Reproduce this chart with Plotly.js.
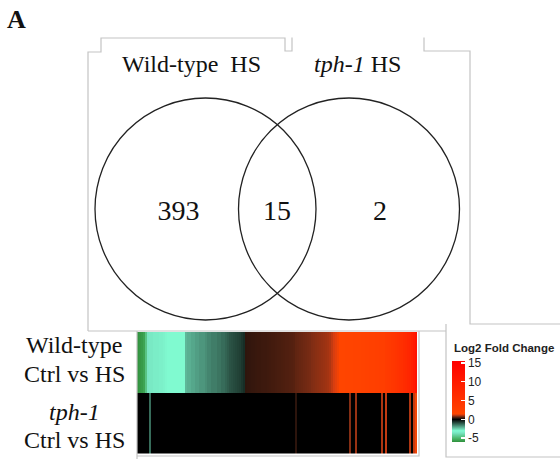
<!DOCTYPE html>
<html>
<head>
<meta charset="utf-8">
<script src="https://cdn.plot.ly/plotly-3.0.1.min.js"></script>
<style>html,body{margin:0;padding:0;background:#fff;}#chart{width:560px;height:462px;}</style>
</head>
<body>
<div id="chart"></div>
<script>
// ---------- DATA ----------
const vennSets = ['Wild-type', '<i>tph-1</i>'];
const vennCounts = [393, 15, 2];          // WT only, shared, tph-1 only
const heatRows = ['tph-1 Ctrl vs HS', 'Wild-type Ctrl vs HS'];
// log2 fold change per gene (sorted by wild-type response), wild-type row
const wtLfc = [
  -5.9, -5.8, -5.7, -5.5, -4.6,
  -3.6, -3.5, -3.5, -3.4, -3.4, -3.4, -3.3, -3.3, -3.2,
  -3.1, -3.0, -3.0, -3.0, -3.0, -3.0, -3.0, -3.0, -3.0, -3.0,
  -2.2, -2.1, -2.1, -2.0, -2.0, -1.9, -1.9, -1.8, -1.8, -1.8, -1.7,
  -1.6, -1.6, -1.5, -1.5, -1.5, -1.4, -1.4, -1.3, -1.3, -1.2,
  -1.1, -1.0, -0.95, -0.9, -0.85, -0.8, -0.75, -0.65, -0.55,
  0.32, 0.33, 0.34, 0.35, 0.36, 0.37, 0.38, 0.38, 0.39, 0.40, 0.40, 0.41, 0.42, 0.43, 0.44,
  0.45, 0.46, 0.47, 0.48, 0.49, 0.50, 0.51, 0.52, 0.53, 0.55,
  0.60, 0.62, 0.64, 0.66, 0.68, 0.70, 0.72, 0.74,
  0.78, 0.80, 0.82, 0.84, 0.86, 0.88, 0.90, 0.92, 0.95,
  1.0, 1.1, 1.2, 1.3, 1.4,
  1.5, 1.6, 1.6, 1.7, 1.7, 1.8, 1.8, 1.9, 1.9, 2.0, 2.0, 2.1, 2.2, 2.3, 2.4, 2.5, 2.5, 2.6, 2.7, 2.8, 2.9, 2.9, 3.0,
  3.5, 3.8, 4.0, 4.3, 4.6, 5.0, 5.3, 5.7, 6.0, 6.5, 7.0, 7.5, 8.0,
  9.0, 10.0, 11.5
];
// same genes, tph-1 row
const tphLfc = [
  0, 0, 0, 0, 0, 0, -1.3, 0, 0, 0, 0, 0, 0, 0, 0, 0, 0, 0, 0, 0,
  0, 0, 0, 0, 0, 0, 0, 0, 0, 0, 0, 0, 0, 0, 0, 0, 0, 0, 0, 0,
  0, 0, 0, 0, 0, 0, 0, 0, 0, 0, 0, 0, 0, 0, 0, 0, 0, 0, 0, 0,
  0, 0, 0, 0, 0, 0, 0, 0, 0, 0, 0, 0, 0, 0, 0, 0, 0, 0, 0, 0.3,
  0, 0, 0, 0, 0, 0, 0, 0, 0, 0, 0, 0, 0, 0, 0, 0, 0, 0, 0, 0,
  0, 0, 0, 0, 0, 0, 0.8, 0, 0, 0.9, 0, 0, 0, 0, 0, 0, 0, 0, 0, 0,
  0, 0, 1.0, 0, 1.1, 0, 0, 0, 0, 0, 0, 0, 0, 0, 0, 0, 1.0, 0, 1.1, 1.4
];
const cbTickVals = [-5, 0, 5, 10, 15];
const cbTickText = ['-5', '0', '5', '10', '15'];

// ---------- CHART ----------
const W = 560, H = 462;
const zmin = -6, zmax = 15.5;
const stop = v => (v - zmin) / (zmax - zmin);
const colorscale = [
  [0, '#2f8f3c'], [stop(-5.2), '#45b060'], [stop(-3.6), '#78e6c2'], [stop(-3.0), '#80fad0'],
  [stop(0), '#000000'], [stop(0.3), '#2c140c'], [stop(0.75), '#7a2c14'], [stop(1.2), '#d83e10'],
  [stop(1.5), '#ff4500'], [1, '#ff0000']
];
const serif = 'Liberation Serif, Times New Roman, serif';
const sans = 'Liberation Sans, Arial, sans-serif';

const heat = {
  type: 'heatmap', xaxis: 'x', yaxis: 'y',
  z: [tphLfc, wtLfc],
  zmin: zmin, zmax: zmax, colorscale: colorscale, zsmooth: false,
  hoverinfo: 'skip',
  colorbar: {
    x: 452 / W, xanchor: 'left', y: 1 - 401.5 / H, yanchor: 'middle',
    len: 81, lenmode: 'pixels', thickness: 13, xpad: 0, ypad: 0,
    outlinewidth: 0, ticks: 'inside', ticklen: 4, tickcolor: '#ffffff', tickwidth: 1.5,
    tickvals: cbTickVals, ticktext: cbTickText,
    tickfont: {family: sans, size: 12, color: '#222'}
  }
};

const countsTrace = {
  type: 'scatter', mode: 'text', xaxis: 'x2', yaxis: 'y2',
  x: [178.5, 277, 380], y: [213, 213, 213],
  text: vennCounts.map(String),
  textposition: 'middle center',
  textfont: {family: serif, size: 28, color: '#111'},
  hoverinfo: 'skip', showlegend: false
};

const gray = {color: '#c4c4c4', width: 1.2};
const shapes = [
  {type: 'circle', xref: 'x2', yref: 'y2', x0: 205.5 - 110.5, x1: 205.5 + 110.5, y0: 209 - 111, y1: 209 + 111, line: {color: '#222', width: 1.3}},
  {type: 'circle', xref: 'x2', yref: 'y2', x0: 349 - 110.5, x1: 349 + 110.5, y0: 209 - 111, y1: 209 + 111, line: {color: '#222', width: 1.3}},
  {type: 'path', xref: 'x2', yref: 'y2', path: 'M88,331 L88,52 L101,52 L101,38 L285,38 L285,51 L292,51 L292,37.5', line: gray},
  {type: 'path', xref: 'x2', yref: 'y2', path: 'M424,37.5 L424,51 L470,51 L470,324 L560,324', line: gray},
  {type: 'path', xref: 'x2', yref: 'y2', path: 'M88,331 L446,331', line: gray},
  {type: 'path', xref: 'x2', yref: 'y2', path: 'M446,324 L446,457 L560,457', line: gray},
  {type: 'path', xref: 'x2', yref: 'y2', path: 'M137,331 L137,459 M137,456 L419,456 L419,331', line: gray}
];

const ann = (text, x, y, size, extra) => Object.assign({
  text: text, x: x, y: y, xref: 'x2', yref: 'y2', showarrow: false,
  xanchor: 'center', yanchor: 'middle', font: {family: serif, size: size, color: '#111'}
}, extra || {});

const annotations = [
  ann('<b>A</b>', 16, 19, 26),
  ann(vennSets[0] + '\u00a0 HS', 191, 64, 24),
  ann(vennSets[1] + ' HS', 357, 64, 24),
  ann(heatRows[1].replace(' Ctrl vs HS', ''), 74, 345, 24),
  ann('Ctrl vs HS', 74, 374, 24),
  ann('<i>' + heatRows[0].replace(' Ctrl vs HS', '') + '</i>', 74, 412, 24),
  ann('Ctrl vs HS', 74, 440, 24),
  ann('<b>Log2 Fold Change</b>', 452, 348, 11.5, {xanchor: 'left', font: {family: sans, size: 11.5, color: '#222'}})
];

const layout = {
  width: W, height: H, autosize: false,
  margin: {l: 0, r: 0, t: 0, b: 0, pad: 0},
  paper_bgcolor: '#ffffff', plot_bgcolor: 'rgba(0,0,0,0)',
  showlegend: false,
  xaxis: {domain: [137 / W, 417 / W], range: [-0.5, wtLfc.length - 0.5], visible: false, anchor: 'y'},
  yaxis: {domain: [1 - 453.5 / H, 1 - 332 / H], range: [-0.5, 1.5], visible: false, anchor: 'x', type: 'linear'},
  xaxis2: {domain: [0, 1], range: [0, W], visible: false, anchor: 'y2'},
  yaxis2: {domain: [0, 1], range: [H, 0], visible: false, anchor: 'x2'},
  shapes: shapes,
  annotations: annotations
};

Plotly.newPlot('chart', [heat, countsTrace], layout, {displayModeBar: false, staticPlot: true});
</script>
</body>
</html>
